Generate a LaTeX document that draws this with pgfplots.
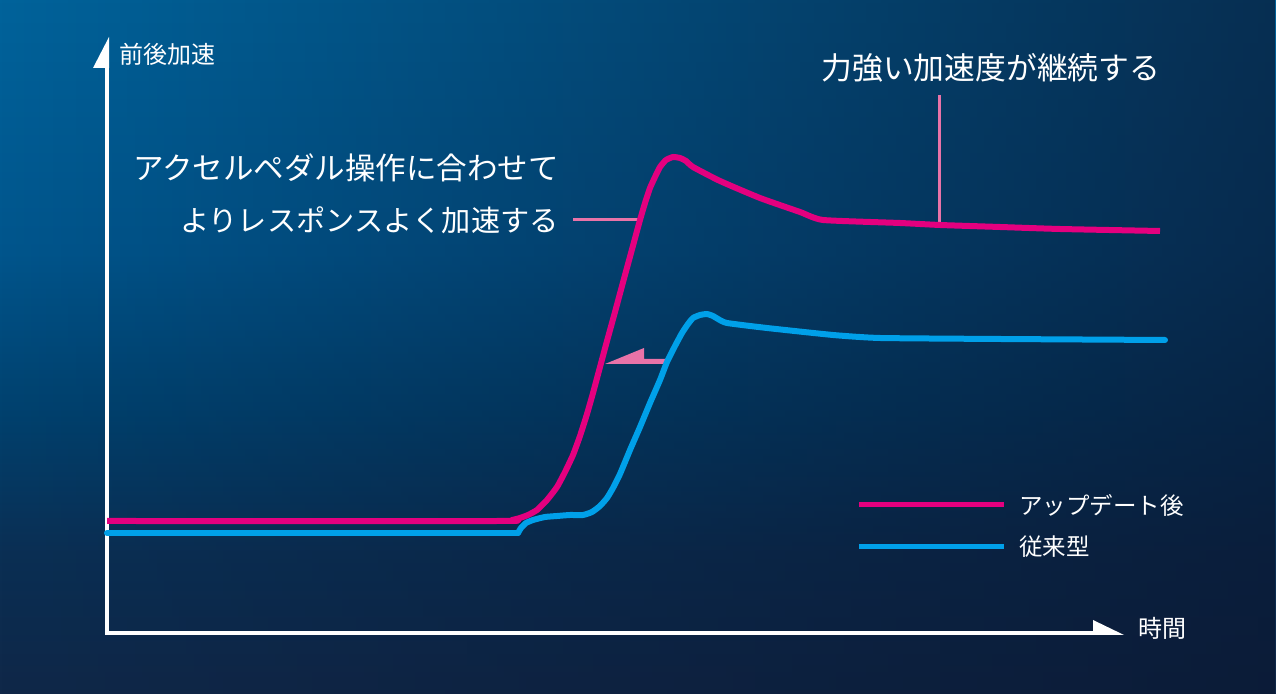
\documentclass[border=0pt]{standalone}
\usepackage{pgfplots}
\pgfplotsset{compat=1.18}
\usetikzlibrary{fadings}
\usepackage{fontspec}
\setmainfont{Noto Sans CJK JP}
\definecolor{magC}{RGB}{228,0,127}
\definecolor{bluC}{RGB}{0,160,233}
\definecolor{pinkC}{RGB}{233,115,168}
\definecolor{v0}{RGB}{15,25,50}
\definecolor{v1}{RGB}{18,36,67}
\definecolor{v2}{RGB}{10,47,84}
\definecolor{v3}{RGB}{0,65,110}
\definecolor{v4}{RGB}{0,85,140}
\definecolor{v5}{RGB}{0,96,152}
\definecolor{v6}{RGB}{0,106,162}
\definecolor{v7}{RGB}{0,114,172}
\definecolor{bgdark}{RGB}{10,22,48}
\pgfdeclareverticalshading{bgv}{100bp}{%
 color(0bp)=(v0); color(20.75bp)=(v1); color(35.16bp)=(v2); color(45.24bp)=(v3);
 color(56.77bp)=(v4); color(71.18bp)=(v5); color(85.59bp)=(v6); color(100bp)=(v7)}
\tikzfading[name=darkright, left color=transparent!100, right color=transparent!32]
\begin{document}
\begin{tikzpicture}
\useasboundingbox (0,0) rectangle (638pt,347pt);
\shade[shading=bgv] (0,0) rectangle (638pt,347pt);
\fill[bgdark, path fading=darkright] (0,0) rectangle (638pt,347pt);
\begin{axis}[scale only axis, width=638pt, height=347pt,
  xmin=0, xmax=1276, ymin=0, ymax=694, y dir=reverse,
  hide axis, clip=true]
% axes
\draw[white, line width=2pt, line join=miter] (axis cs:107,62) -- (axis cs:107,633) -- (axis cs:1095,633);
\fill[white] (axis cs:109,37) -- (axis cs:93,68) -- (axis cs:109,68) -- cycle;
\fill[white] (axis cs:1093,620) -- (axis cs:1124,635) -- (axis cs:1093,635) -- cycle;
\node[anchor=west, inner sep=0, white, font=\fontsize{12pt}{14pt}\selectfont] at (axis cs:119,54) {前後加速};
\node[anchor=west, inner sep=0, white, font=\fontsize{12pt}{14pt}\selectfont] at (axis cs:1138,628) {時間};
% annotations
\node[anchor=east, inner sep=0, white, font=\fontsize{15.25pt}{16pt}\selectfont] at (axis cs:559,168) {アクセルペダル操作に合わせて};
\node[anchor=east, inner sep=0, white, font=\fontsize{14.6pt}{16pt}\selectfont] at (axis cs:559,220) {よりレスポンスよく加速する};
\node[anchor=west, inner sep=0, white, font=\fontsize{15.4pt}{16pt}\selectfont] at (axis cs:821,68) {力強い加速度が継続する};
\draw[pinkC, line width=1.5pt] (axis cs:573,220) -- (axis cs:638,220);
\draw[pinkC, line width=1.5pt] (axis cs:939,95) -- (axis cs:939,222);
\fill[pinkC] (axis cs:605,364) -- (axis cs:644,348) -- (axis cs:644,359) -- (axis cs:667,359) -- (axis cs:667,364) -- cycle;
% legend
\draw[magC, line width=2.5pt] (axis cs:859,505) -- (axis cs:1004,505);
\draw[bluC, line width=2.5pt] (axis cs:859,547) -- (axis cs:1004,547);
\node[anchor=west, inner sep=0, white, font=\fontsize{11.75pt}{14pt}\selectfont] at (axis cs:1019,505) {アップデート後};
\node[anchor=west, inner sep=0, white, font=\fontsize{11.75pt}{14pt}\selectfont] at (axis cs:1019,547) {従来型};
% curves
\addplot[bluC, line width=3pt, line cap=round] coordinates {(107,533) (518,533)};
\addplot[bluC, line width=3pt, line join=round, line cap=round, smooth, tension=0.3] coordinates {
(518,533) (521,528) (526,523) (533,520) (545,517) (557,516) (570,515) (583,515)
(592,512) (600,506) (607,498) (613,488) (620,474) (630,450) (640,427) (650,403) (660,380)
(667,362) (675,346) (682,333) (688,324) (693,318) (700,315) (707,314) (713,316) (718,319)
(727,323) (767,328) (833,335) (880,338) (1000,339) (1165,340)};
\addplot[magC, line width=3pt, line join=round, smooth, tension=0.3] coordinates {
(107,521) (500,521) (512,520) (520,518) (528,515) (537,510) (547,500) (557,487) (565,472)
(573,455) (580,436) (587,414) (593,393) (600,367) (607,341) (615,312) (622,286) (628,264)
(634,242) (640,220) (645,203) (650,188) (655,177) (660,167) (666,160) (673,157)
(680,158) (686,161) (693,167) (720,181) (760,198) (800,212) (823,220) (900,223)
(940,225) (1000,227) (1060,229) (1160,231)};
\end{axis}
\end{tikzpicture}
\end{document}
